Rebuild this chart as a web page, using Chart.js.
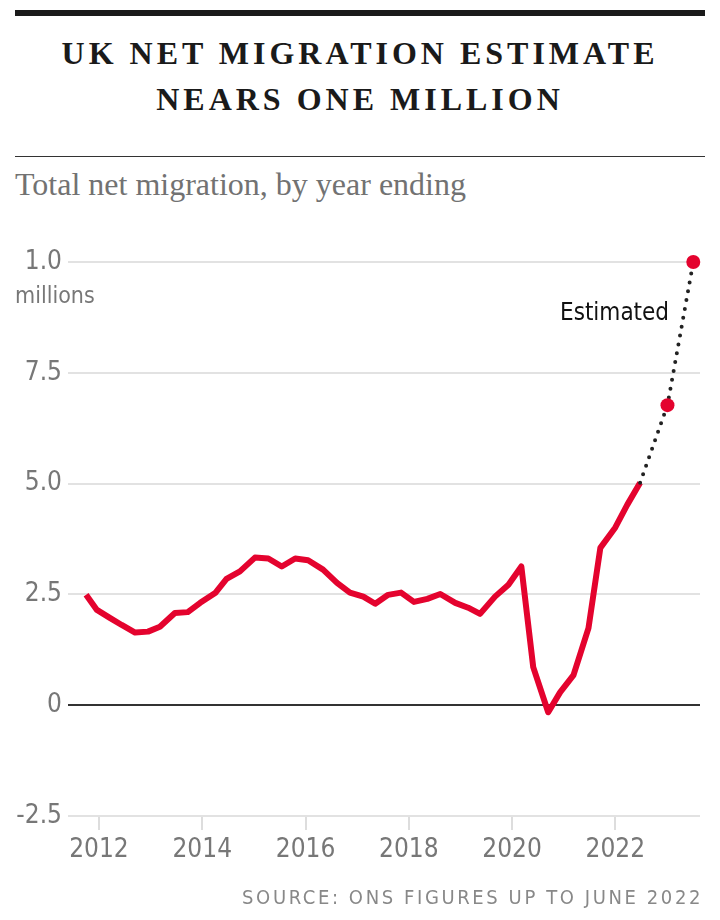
<!DOCTYPE html>
<html>
<head>
<meta charset="utf-8">
<script src="https://cdn.jsdelivr.net/npm/chart.js@4.4.0/dist/chart.umd.min.js"></script>
<style>
  html, body { margin: 0; padding: 0; background: #fff; }
  body { width: 720px; height: 920px; position: relative; overflow: hidden; }
  .rule-top { position: absolute; left: 15px; top: 10px; width: 690px; height: 6px; background: #1a1a1a; }
  .rule-mid { position: absolute; left: 15px; top: 156px; width: 690px; height: 1px; background: #333; }
  h1 {
    position: absolute; left: 0; top: 30px; width: 720px; margin: 0;
    text-align: center; font-family: "Liberation Serif", "DejaVu Serif", serif;
    font-weight: bold; font-size: 32px; line-height: 46px; letter-spacing: 4px; color: #1a1a1a;
  }
  .subtitle {
    position: absolute; left: 15px; top: 166px; margin: 0;
    font-family: "Liberation Serif", "DejaVu Serif", serif; font-size: 32px; color: #727272;
  }
  .narrow { font-family: "Liberation Sans Narrow", "DejaVu Sans Condensed", sans-serif; }
  .millions { position: absolute; left: 15px; top: 282px; font-size: 23px; color: #777; }
  .estimated { position: absolute; left: 560px; top: 298px; font-size: 24px; color: #111; }
  .source {
    position: absolute; right: 17px; top: 885px; font-size: 20px; letter-spacing: 2.6px; color: #888;
  }
  #chart { position: absolute; left: 0; top: 0; }
</style>
</head>
<body>
<div class="rule-top"></div>
<h1>UK NET MIGRATION ESTIMATE<br>NEARS ONE MILLION</h1>
<div class="rule-mid"></div>
<div class="subtitle">Total net migration, by year ending</div>
<canvas id="chart" width="720" height="920"></canvas>
<div class="millions narrow">millions</div>
<div class="estimated narrow">Estimated</div>
<div class="source narrow">SOURCE: ONS FIGURES UP TO JUNE 2022</div>

<script>
// Year-ending periods (decimal years) and net migration (hundred thousands)
const years = [2011.75, 2011.96, 2012.21, 2012.44, 2012.70, 2012.95, 2013.18, 2013.47,
  2013.72, 2013.96, 2014.25, 2014.47, 2014.73, 2015.02, 2015.28, 2015.54, 2015.80,
  2016.05, 2016.34, 2016.61, 2016.86, 2017.12, 2017.35, 2017.60, 2017.85, 2018.10,
  2018.36, 2018.61, 2018.90, 2019.15, 2019.38, 2019.67, 2019.93, 2020.18, 2020.41,
  2020.70, 2020.93, 2021.19, 2021.48, 2021.71, 2022.00, 2022.23, 2022.48];
const netMigration = [2.49, 2.15, 1.97, 1.81, 1.64, 1.66, 1.77, 2.08,
  2.10, 2.31, 2.53, 2.85, 3.02, 3.33, 3.31, 3.13, 3.31,
  3.27, 3.06, 2.76, 2.54, 2.45, 2.29, 2.49, 2.54, 2.33,
  2.40, 2.51, 2.31, 2.20, 2.06, 2.45, 2.72, 3.13, 0.86,
  -0.16, 0.29, 0.68, 1.74, 3.55, 4.01, 4.52, 5.02];

const estYears = [2022.48, 2023.01, 2023.51];
const estValues = [5.02, 6.77, 10.0];

const xTicks = [2012, 2014, 2016, 2018, 2020, 2022];
const yTicks = [-2.5, 0, 2.5, 5, 7.5, 10];
const yTickLabels = ['-2.5', '0', '2.5', '5.0', '7.5', '1.0'];

const RED = '#e4032e';
const tickFont = { family: '"Liberation Sans Narrow", "DejaVu Sans Condensed", sans-serif', size: 26 };

const actual = years.map((x, i) => ({ x: x, y: netMigration[i] }));
const estimate = estYears.map((x, i) => ({ x: x, y: estValues[i] }));

new Chart(document.getElementById('chart').getContext('2d'), {
  type: 'line',
  data: {
    datasets: [
      {
        data: estimate,
        order: 0,
        clip: false,
        borderColor: '#222',
        borderWidth: 4,
        borderDash: [0, 9],
        borderCapStyle: 'round',
        pointRadius: [0, 7, 7],
        pointBackgroundColor: RED,
        pointBorderWidth: 0,
        tension: 0
      },
      {
        data: actual,
        order: 1,
        clip: false,
        borderColor: RED,
        borderWidth: 6,
        borderJoinStyle: 'round',
        pointRadius: 0,
        tension: 0
      }
    ]
  },
  options: {
    responsive: false,
    animation: false,
    devicePixelRatio: 1,
    layout: { padding: { top: 262, bottom: 0, left: 0, right: 20 } },
    plugins: { legend: { display: false }, tooltip: { enabled: false } },
    scales: {
      x: {
        type: 'linear',
        min: 2011.4,
        max: 2023.64,
        afterBuildTicks: function(scale) {
          scale.ticks = xTicks.map(v => ({ value: v }));
        },
        afterFit: function(scale) { scale.height = 104; },
        grid: {
          drawOnChartArea: false,
          drawTicks: true,
          tickLength: 14,
          color: '#ddd',
          lineWidth: 2
        },
        border: { display: false },
        ticks: {
          color: '#777',
          font: tickFont,
          padding: 5,
          maxRotation: 0,
          callback: function(value) { return String(value); }
        }
      },
      y: {
        min: -2.5,
        max: 10,
        afterBuildTicks: function(scale) {
          scale.ticks = yTicks.map(v => ({ value: v }));
        },
        afterFit: function(scale) { scale.width = 68; },
        grid: {
          drawTicks: false,
          lineWidth: 2,
          color: function(ctx) {
            return ctx.tick && ctx.tick.value === 0 ? '#333' : '#e2e2e2';
          }
        },
        border: { display: false },
        ticks: {
          color: '#777',
          font: tickFont,
          padding: 6,
          callback: function(value) {
            const i = yTicks.indexOf(value);
            return i >= 0 ? yTickLabels[i] : '';
          }
        }
      }
    }
  }
});
</script>
</body>
</html>
